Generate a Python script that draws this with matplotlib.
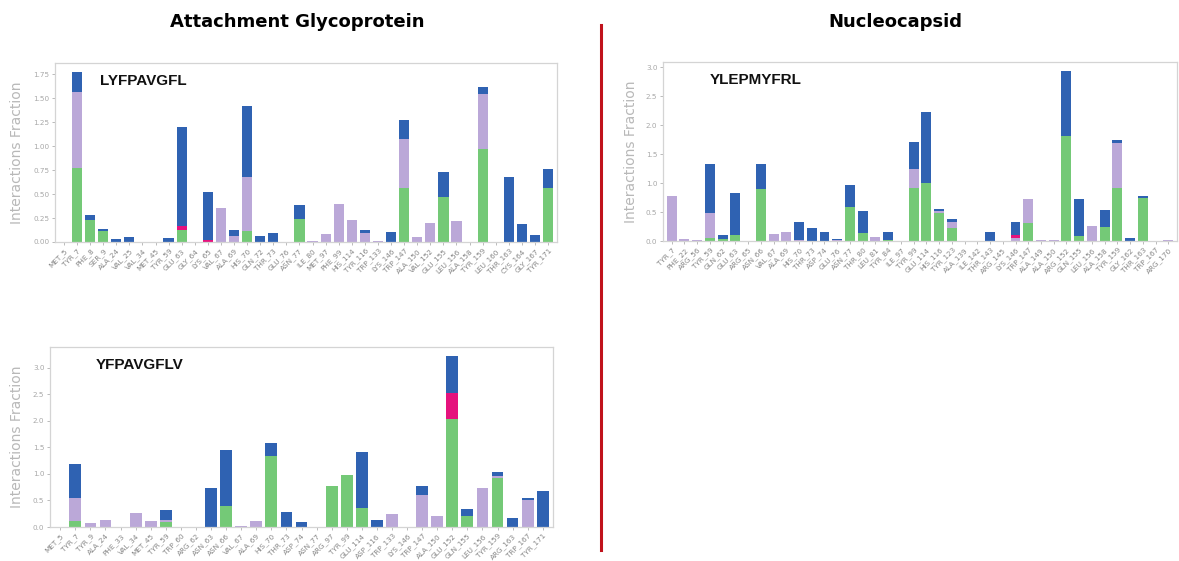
import matplotlib
matplotlib.use("Agg")
import matplotlib.pyplot as plt
import numpy as np

# Interaction types (stack order bottom -> top)
TYPE_COLORS = {
    "H-bonds": "#74c977",
    "Hydrophobic": "#bba8d8",
    "Ionic": "#e5127d",
    "Water bridges": "#2f62b2",
}

# ---- Attachment glycoprotein : LYFPAVGFL ----
lyf_residues = ["MET_5", "TYR_7", "PHE_8", "SER_9", "ALA_24", "VAL_25", "VAL_34", "MET_45",
                "TYR_59", "GLU_63", "GLY_64", "LYS_65", "VAL_67", "ALA_69", "HIS_70", "GLN_72",
                "THR_73", "GLU_76", "ASN_77", "ILE_80", "MET_97", "PHE_99", "HIS_114", "TYR_116",
                "TRP_133", "LYS_146", "TRP_147", "ALA_150", "VAL_152", "GLU_155", "LEU_156",
                "ALA_158", "TYR_159", "LEU_160", "THR_163", "CYS_164", "GLY_167", "TYR_171"]
lyf_hbond = [0, 0.775, 0.23, 0.115, 0, 0, 0, 0, 0, 0.13, 0, 0, 0, 0, 0.12, 0,
             0, 0, 0.238, 0, 0, 0, 0, 0, 0, 0, 0.56, 0, 0, 0.47, 0,
             0, 0.97, 0, 0, 0, 0, 0.56]
lyf_hydro = [0, 0.795, 0, 0, 0, 0, 0, 0, 0, 0, 0, 0, 0.35, 0.06, 0.56, 0,
             0, 0.005, 0, 0.01, 0.08, 0.40, 0.227, 0.09, 0.01, 0, 0.52, 0.05, 0.20, 0, 0.22,
             0, 0.58, 0, 0, 0, 0, 0]
lyf_ionic = [0, 0, 0, 0, 0, 0, 0, 0, 0, 0.035, 0, 0.02, 0, 0, 0, 0,
             0, 0, 0, 0, 0, 0, 0, 0, 0, 0, 0, 0, 0, 0, 0,
             0, 0, 0, 0, 0, 0, 0]
lyf_water = [0, 0.21, 0.05, 0.025, 0.035, 0.05, 0, 0, 0.04, 1.04, 0, 0.50, 0, 0.07, 0.735, 0.065,
             0.094, 0, 0.147, 0, 0, 0, 0, 0.04, 0, 0.10, 0.19, 0, 0, 0.26, 0,
             0, 0.07, 0, 0.68, 0.19, 0.07, 0.20]

# ---- Attachment glycoprotein : YFPAVGFLV ----
yfp_residues = ["MET_5", "TYR_7", "TYR_9", "ALA_24", "PHE_33", "VAL_34", "MET_45", "TYR_59",
                "TRP_60", "ARG_62", "ASN_63", "ASN_66", "VAL_67", "ALA_69", "HIS_70", "THR_73",
                "ASP_74", "ASN_77", "ARG_97", "TYR_99", "GLU_114", "ASP_116", "TRP_133",
                "LYS_146", "TRP_147", "ALA_150", "GLU_152", "GLN_155", "LEU_156", "TYR_159",
                "ARG_163", "TRP_167", "TYR_171"]
yfp_hbond = [0, 0.11, 0, 0, 0, 0, 0, 0.10, 0, 0, 0, 0.40, 0, 0, 1.33, 0,
             0, 0, 0.77, 0.98, 0.36, 0, 0, 0, 0, 0, 2.03, 0.20, 0, 0.92, 0, 0, 0]
yfp_hydro = [0, 0.44, 0.075, 0.125, 0, 0.26, 0.12, 0.03, 0, 0, 0, 0, 0.02, 0.11, 0, 0,
             0, 0, 0, 0, 0, 0, 0.25, 0, 0.60, 0.20, 0, 0, 0.73, 0.05, 0, 0.50, 0]
yfp_ionic = [0, 0, 0, 0, 0, 0, 0, 0, 0, 0, 0, 0, 0, 0, 0, 0,
             0, 0, 0, 0, 0, 0, 0, 0, 0, 0, 0.50, 0, 0, 0, 0, 0, 0]
yfp_water = [0, 0.64, 0, 0, 0, 0, 0, 0.19, 0, 0, 0.73, 1.06, 0, 0, 0.26, 0.29,
             0.10, 0, 0, 0, 1.06, 0.13, 0, 0, 0.18, 0, 0.70, 0.13, 0, 0.07, 0.17, 0.05, 0.68]

# ---- Nucleocapsid : YLEPMYFRL ----
yle_residues = ["TYR_7", "PHE_22", "ARG_56", "TYR_59", "GLN_62", "GLU_63", "ARG_65", "ASN_66",
                "VAL_67", "ALA_69", "HIS_70", "THR_73", "ASP_74", "GLU_76", "ASN_77", "THR_80",
                "LEU_81", "TYR_84", "ILE_97", "TYR_99", "GLU_114", "HIS_116", "TYR_123",
                "ALA_139", "ILE_142", "THR_143", "ARG_145", "LYS_146", "TRP_147", "ALA_149",
                "ALA_150", "ARG_152", "GLN_155", "LEU_156", "ALA_158", "TYR_159", "GLY_162",
                "THR_163", "TRP_167", "ARG_170"]
yle_hbond = [0, 0, 0, 0.05, 0.04, 0.10, 0, 0.90, 0, 0, 0, 0, 0, 0, 0.58, 0.13,
             0, 0.02, 0, 0.915, 1.00, 0.48, 0.23, 0, 0, 0, 0, 0, 0.31, 0,
             0, 1.81, 0.09, 0, 0.25, 0.915, 0, 0.75, 0, 0]
yle_hydro = [0.78, 0.03, 0.01, 0.43, 0, 0, 0, 0, 0.12, 0.16, 0.02, 0, 0, 0.02, 0, 0,
             0.065, 0, 0, 0.33, 0, 0.03, 0.10, 0, 0, 0, 0, 0.05, 0.42, 0.01,
             0.02, 0, 0, 0.265, 0, 0.77, 0, 0, 0, 0.015]
yle_ionic = [0, 0, 0, 0, 0, 0, 0, 0, 0, 0, 0, 0, 0, 0, 0, 0,
             0, 0, 0, 0, 0, 0, 0, 0, 0, 0, 0, 0.05, 0, 0,
             0, 0, 0, 0, 0, 0, 0, 0, 0, 0]
yle_water = [0, 0, 0, 0.84, 0.06, 0.73, 0, 0.42, 0, 0, 0.31, 0.23, 0.16, 0.02, 0.38, 0.38,
             0, 0.14, 0, 0.455, 1.23, 0.04, 0.05, 0, 0, 0.15, 0, 0.23, 0, 0,
             0, 1.13, 0.64, 0, 0.28, 0.06, 0.05, 0.02, 0, 0]

W, H = 1179, 561
fig = plt.figure(figsize=(W / 100, H / 100), dpi=100)
fig.patch.set_facecolor("white")


def px_axes(left, top, right, bottom):
    return fig.add_axes([left / W, 1 - bottom / H, (right - left) / W, (bottom - top) / H])


def draw_panel(ax, residues, hbond, hydro, ionic, water, peptide, ticks, fmt, ylab_x):
    x = np.arange(len(residues))
    base = np.zeros(len(residues))
    for key, vals in zip(TYPE_COLORS, (hbond, hydro, ionic, water)):
        vals = np.asarray(vals, dtype=float)
        ax.bar(x, vals, width=0.78, bottom=base, color=TYPE_COLORS[key], linewidth=0)
        base = base + vals
    ax.set_xlim(-0.68, len(residues) - 1 + 0.68)
    ax.set_ylim(0, base.max() * 1.05)
    ax.set_xticks(x)
    ax.set_xticklabels(residues, rotation=45, ha="right", rotation_mode="anchor",
                       fontsize=5.2, color="#858585")
    ax.set_yticks(ticks)
    ax.set_yticklabels([fmt.format(t) for t in ticks], fontsize=5.2, color="#a8a8a8")
    ax.tick_params(axis="both", length=2.5, width=0.6, color="#b0b0b0", pad=1.5)
    for sp in ax.spines.values():
        sp.set_color("#d4d4d4")
        sp.set_linewidth(0.9)
    ax.set_ylabel("Interactions Fraction", fontsize=10, color="#b8b8b8")
    pos = ax.get_position()
    ax.yaxis.set_label_coords((ylab_x / W - pos.x0) / pos.width, 0.5)
    ax.text(0.09, 0.9, peptide, transform=ax.transAxes, fontsize=11,
            fontweight="bold", color="#111111", va="center", ha="left",
            family=["Liberation Sans", "DejaVu Sans"])


ax1 = px_axes(55, 63, 557, 242)
draw_panel(ax1, lyf_residues, lyf_hbond, lyf_hydro, lyf_ionic, lyf_water, "LYFPAVGFL",
           np.arange(0, 1.76, 0.25), "{:.2f}", 24)

ax2 = px_axes(663, 62, 1177, 241)
draw_panel(ax2, yle_residues, yle_hbond, yle_hydro, yle_ionic, yle_water, "YLEPMYFRL",
           np.arange(0, 3.01, 0.5), "{:.1f}", 638)

ax3 = px_axes(50, 347, 553, 527)
draw_panel(ax3, yfp_residues, yfp_hbond, yfp_hydro, yfp_ionic, yfp_water, "YFPAVGFLV",
           np.arange(0, 3.01, 0.5), "{:.1f}", 24)

title_font = dict(fontsize=13, fontweight="bold", color="black", ha="center", va="center",
                  family=["DejaVu Sans"])
fig.text(297 / W, 1 - 22 / H, "Attachment Glycoprotein", **title_font)
fig.text(895 / W, 1 - 22 / H, "Nucleocapsid", **title_font)

# divider between the two proteins
fig.add_artist(plt.Line2D([601 / W, 601 / W], [1 - 25 / H, 1 - 550 / H],
                          transform=fig.transFigure, color="#c0121c", linewidth=2.2))

fig.savefig("out.png", dpi=100, facecolor="white")
